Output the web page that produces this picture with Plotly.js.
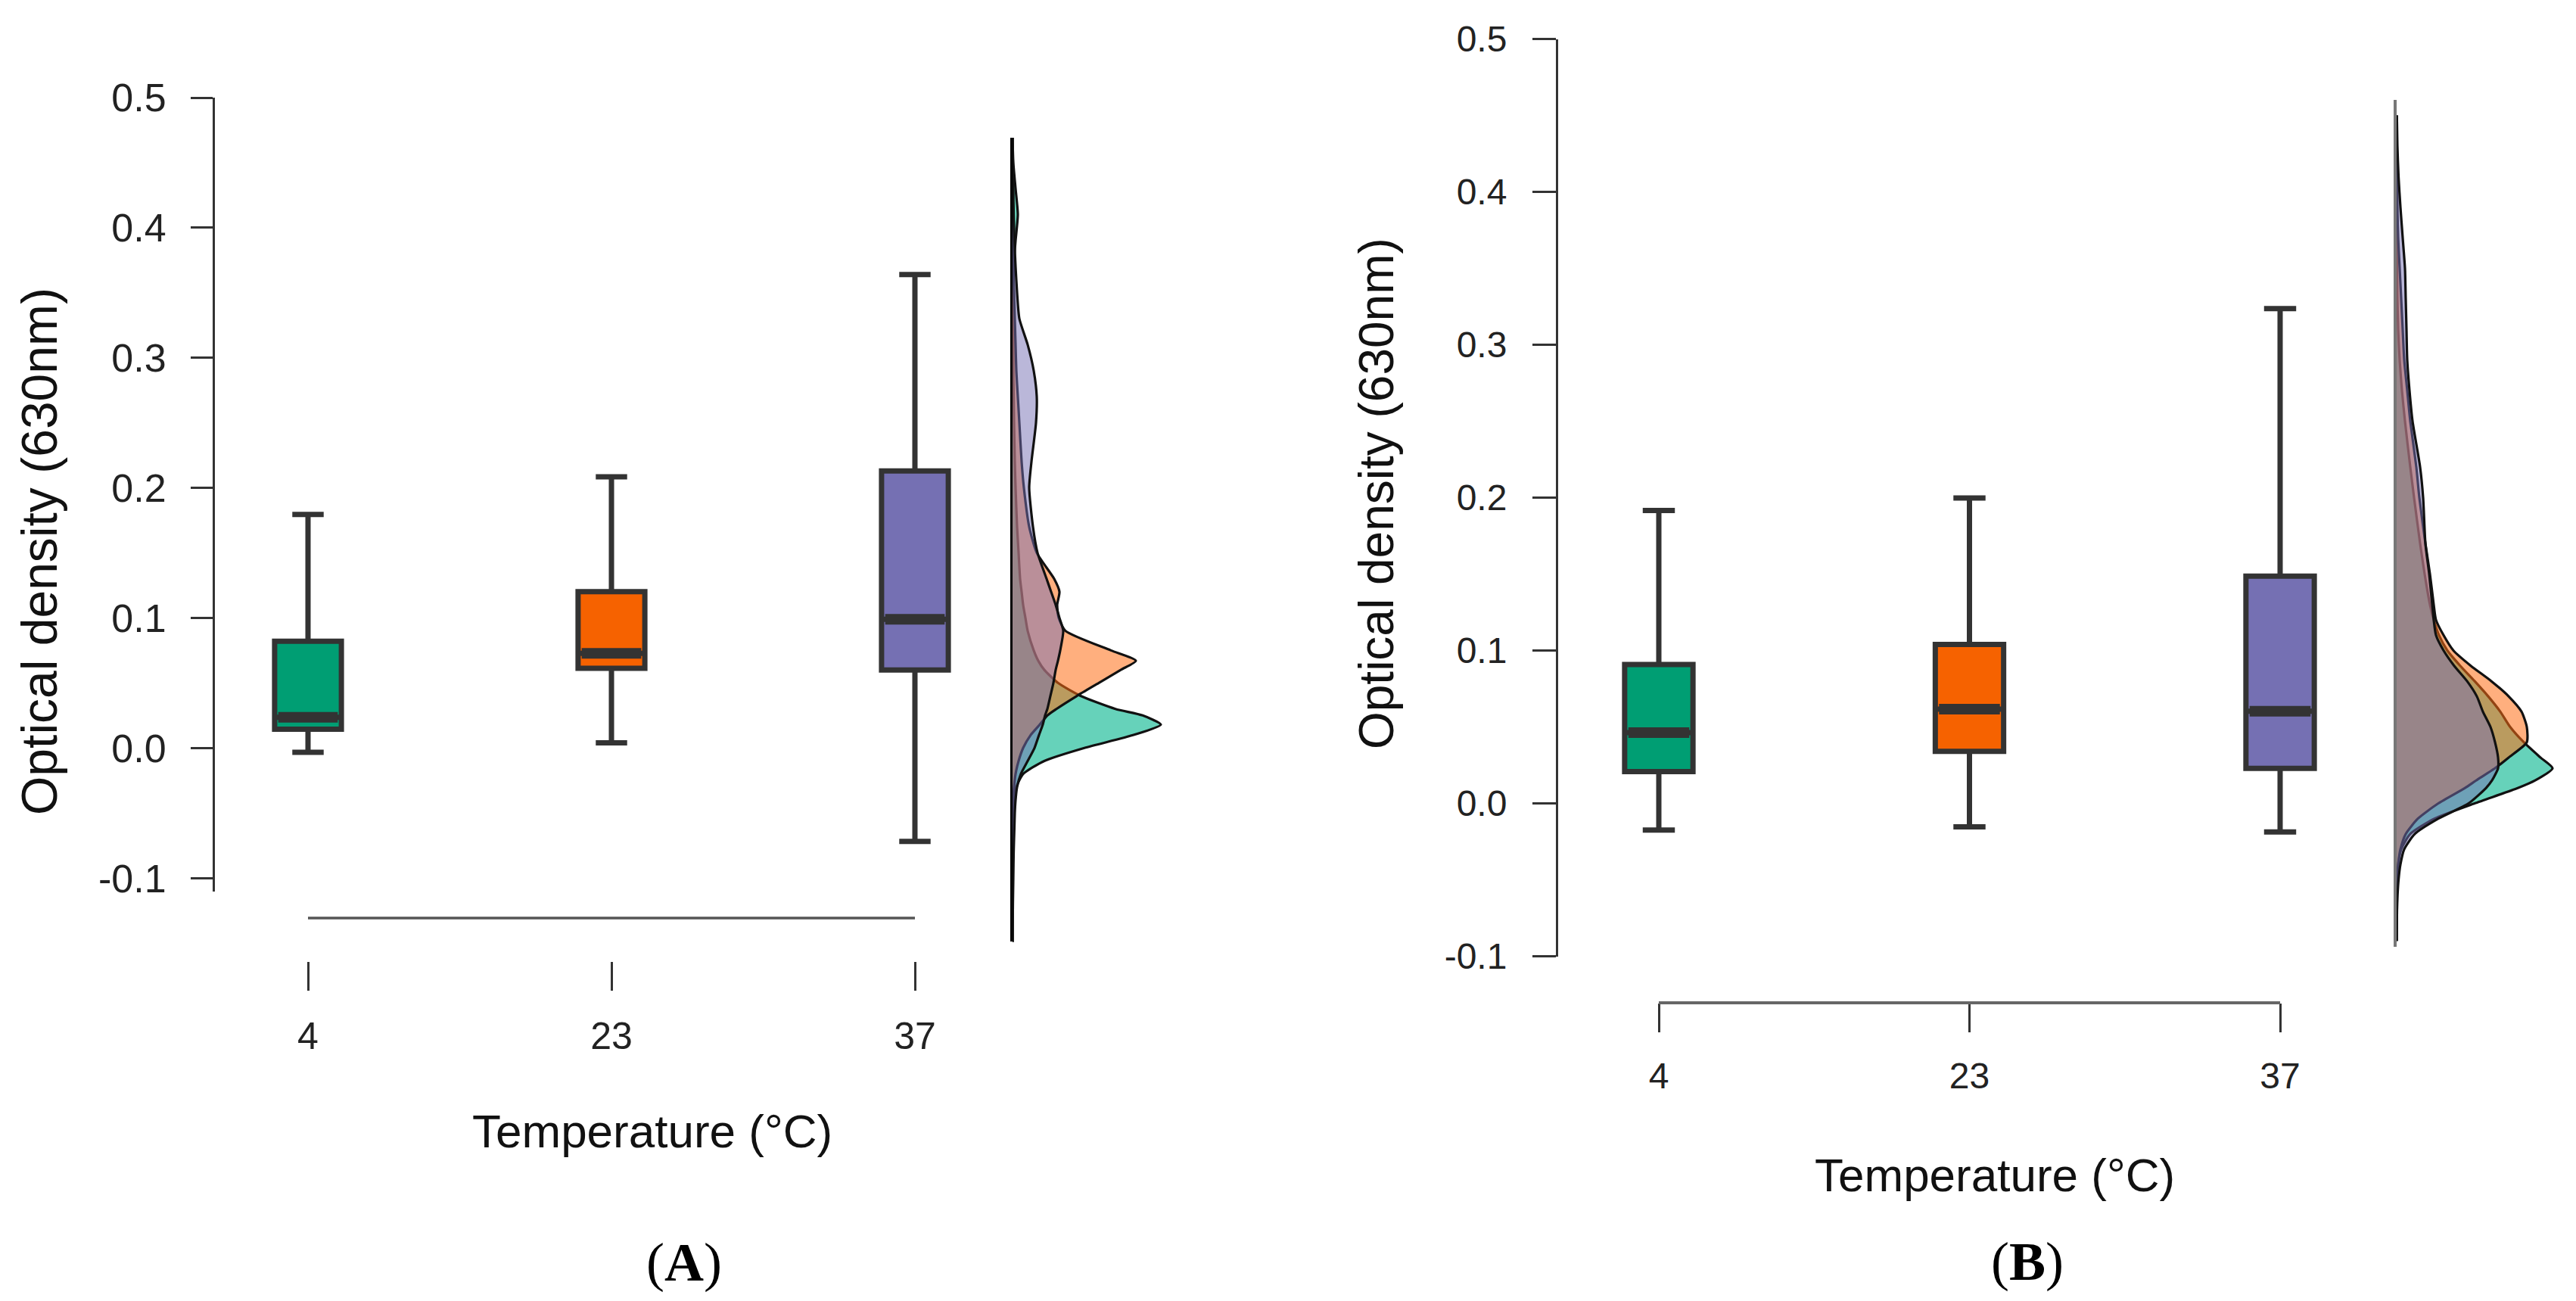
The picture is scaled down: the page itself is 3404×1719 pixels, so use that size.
<!DOCTYPE html>
<html>
<head>
<meta charset="utf-8">
<script src="https://cdn.plot.ly/plotly-3.0.1.min.js"></script>
<style>html,body{margin:0;padding:0;background:#fff;overflow:hidden}</style>
</head>
<body>
<div id="chart" style="width:3404px;height:1719px"></div>
<script>
// ---------- data ----------
const categories = ['4', '23', '37'];
const boxColors = ['#009E73', '#F66200', '#7570B3'];
const densFill = ['rgba(0,180,140,0.6)', 'rgba(255,110,20,0.55)', 'rgba(117,112,179,0.5)'];

const yTickVals = [-0.1, 0.0, 0.1, 0.2, 0.3, 0.4, 0.5];
const yTickText = ['-0.1', '0.0', '0.1', '0.2', '0.3', '0.4', '0.5'];

// Panel A box statistics
const q1A  = [0.0145, 0.0614, 0.0600];
const medA = [0.0237, 0.0728, 0.0990];
const q3A  = [0.0821, 0.1203, 0.2130];
const loA  = [-0.0032, 0.0040, -0.0717];
const hiA  = [0.1796, 0.2085, 0.3640];

// Panel B box statistics
const q1B  = [0.0208, 0.0340, 0.0229];
const medB = [0.0463, 0.0616, 0.0603];
const q3B  = [0.0909, 0.1040, 0.1487];
const loB  = [-0.0174, -0.0153, -0.0187];
const hiB  = [0.1916, 0.1997, 0.3237];

// Panel A densities (relative width) on a grid of optical density values
const gridA = [-0.15,-0.12,-0.1,-0.08,-0.06,-0.05,-0.04,-0.03,-0.02,-0.01,0.0,0.01,0.018,0.025,0.03,0.04,0.05,0.06,0.067,0.075,0.09,0.1,0.11,0.12,0.13,0.15,0.17,0.2,0.22,0.25,0.27,0.29,0.31,0.33,0.35,0.37,0.39,0.41,0.43,0.45,0.47];
const densA4  = [0,0,0,0,0.5,1,2,5,14,42,95,160,196,172,136,90,60,42,34,28,20,17,14,12,10,8,6,4,3,2,1.5,1,1,1,1,1.5,4,7,4,1,0];
const densA23 = [0,0,0,0,0,0.5,1,2,4,8,14,24,36,46,58,85,114,143,163,130,70,61,59,62,55,32,22,15,12,9,7,5,4,3,2,1,0.5,0,0,0,0];
const densA37 = [0,0.5,1,1.5,2.5,3,4,6,11,20,29,35,40,43,46,50,54,57,60,63,67,62,57,51,45,33,27,22,25,31,32,28,20,9,6,4,2.5,1.5,1,0.5,0];

// Panel B densities
const gridB = [-0.09,-0.07,-0.06,-0.05,-0.04,-0.03,-0.02,-0.01,0.0,0.01,0.015,0.023,0.03,0.04,0.05,0.06,0.07,0.08,0.09,0.1,0.11,0.12,0.13,0.15,0.17,0.2,0.22,0.25,0.27,0.29,0.31,0.33,0.35,0.37,0.39,0.41,0.43,0.45];
const densB4  = [0,0,0.3,0.8,2,6,18,50,103,160,183,206,190,168,150,137,121,103,84,67,56,49,44,37,31,23,18,11,7,4,2,1,0.5,0,0,0,0,0];
const densB23 = [0,0,0,0.5,2,5,12,28,55,90,105,130,148,172,172,165,148,125,98,75,62,52,49,44,38,30,26,18,14,10,8,6,4,2,1,0.5,0,0];
const densB37 = [0,0.5,1.2,2.5,5,10,24,55,95,118,126,134,134,130,124,114,106,93,76,62,52,49,47,43,38,35,31,21,17,14,13,12,11,8,5,2.5,1,0.3];

// ---------- layout helpers ----------
const W = 3404, H = 1719;
const px = v => v / W;
const py = v => 1 - v / H;
const BOX_W = 0.22;
const FONT = 'Liberation Sans, Arial, sans-serif';

function boxTraces(xa, ya, q1, med, q3, lo, hi) {
  const out = [];
  categories.forEach((c, i) => {
    out.push({
      type: 'box', xaxis: xa, yaxis: ya, x: [i],
      q1: [q1[i]], median: [med[i]], q3: [q3[i]],
      lowerfence: [lo[i]], upperfence: [hi[i]],
      width: BOX_W, whiskerwidth: 0.47, boxpoints: false,
      fillcolor: boxColors[i], line: {color: '#333333', width: 7},
      hoverinfo: 'skip', showlegend: false
    });
    out.push({
      type: 'scatter', mode: 'lines', xaxis: xa, yaxis: ya,
      x: [i - BOX_W / 2 + 0.012, i + BOX_W / 2 - 0.012], y: [med[i], med[i]],
      line: {color: '#333333', width: 14}, hoverinfo: 'skip', showlegend: false
    });
  });
  return out;
}
function densTraces(xa, ya, grid, dens) {
  return dens.map((d, i) => ({
    type: 'scatter', mode: 'lines', xaxis: xa, yaxis: ya,
    x: d, y: grid, fill: 'tozerox', fillcolor: densFill[i],
    line: {color: '#111', width: 3.2, shape: 'spline', smoothing: 0.6},
    hoverinfo: 'skip', showlegend: false
  }));
}

const traces = [].concat(
  boxTraces('x', 'y', q1A, medA, q3A, loA, hiA),
  densTraces('x2', 'y2', gridA, [densA4, densA23, densA37]),
  boxTraces('x3', 'y3', q1B, medB, q3B, loB, hiB),
  densTraces('x4', 'y4', gridB, [densB4, densB23, densB37])
);

const tickCommon = {showgrid: false, zeroline: false, ticks: 'outside', tickwidth: 3, tickcolor: '#333'};

const layout = {
  width: W, height: H,
  margin: {l: 0, r: 0, t: 0, b: 0},
  paper_bgcolor: '#fff', plot_bgcolor: 'rgba(0,0,0,0)',
  showlegend: false, boxmode: 'overlay',
  font: {family: FONT, color: '#222'},
  xaxis: Object.assign({}, tickCommon, {
    domain: [px(282), px(1300)], range: [(282 - 407) / 401, 2 + (1300 - 1209) / 401],
    anchor: 'free', position: py(1270), showline: false, ticklen: 38,
    tickvals: [0, 1, 2], ticktext: categories, tickfont: {size: 50, family: FONT, color: '#222'},
    ticklabelstandoff: 17
  }),
  yaxis: Object.assign({}, tickCommon, {
    domain: [py(1177.5), py(129)], range: [-0.11, 0.5],
    anchor: 'free', position: px(282), showline: true, linecolor: '#333', linewidth: 3,
    ticklen: 29, tickvals: yTickVals, ticktext: yTickText,
    tickfont: {size: 52, family: FONT, color: '#222'}, ticklabelstandoff: 22
  }),
  xaxis2: {domain: [px(1338), px(1568)], range: [0, 230], anchor: 'y2', visible: false},
  yaxis2: {domain: [py(1244.4), py(182.1)], range: [-0.149, 0.469], anchor: 'x2',
    showline: true, linecolor: '#000', linewidth: 3, ticks: '', showticklabels: false,
    showgrid: false, zeroline: false},
  xaxis3: Object.assign({}, tickCommon, {
    domain: [px(2057), px(3100)], range: [-(2192 - 2057) / 410.5, 2 + (3100 - 3013) / 410.5],
    anchor: 'free', position: py(1325), showline: false, ticklen: 38,
    tickvals: [0, 1, 2], ticktext: categories, tickfont: {size: 48, family: FONT, color: '#222'},
    ticklabelstandoff: 16
  }),
  yaxis3: Object.assign({}, tickCommon, {
    domain: [py(1263.5), py(51.5)], range: [-0.1, 0.5],
    anchor: 'free', position: px(2057), showline: true, linecolor: '#333', linewidth: 3,
    ticklen: 31, tickvals: yTickVals, ticktext: yTickText,
    tickfont: {size: 48, family: FONT, color: '#222'}, ticklabelstandoff: 24
  }),
  xaxis4: {domain: [px(3167), px(3397)], range: [0, 230], anchor: 'y4', visible: false},
  yaxis4: {domain: [py(1251.4), py(132.3)], range: [-0.094, 0.46], anchor: 'x4',
    showline: true, linecolor: '#777', linewidth: 4, ticks: '', showticklabels: false,
    showgrid: false, zeroline: false},
  shapes: [
    {type: 'line', xref: 'x', yref: 'paper', x0: 0, x1: categories.length - 1,
     y0: py(1213), y1: py(1213), line: {color: '#555', width: 3.5}},
    {type: 'line', xref: 'x3', yref: 'paper', x0: 0, x1: categories.length - 1,
     y0: py(1325), y1: py(1325), line: {color: '#666', width: 4}}
  ],
  annotations: [
    {text: 'Optical density (630nm)', textangle: -90, xref: 'paper', yref: 'paper',
     x: px(52), y: py(729), xanchor: 'center', yanchor: 'middle', showarrow: false,
     font: {size: 66, family: FONT, color: '#111'}},
    {text: 'Temperature (°C)', xref: 'paper', yref: 'paper',
     x: px(862), y: py(1494), xanchor: 'center', yanchor: 'middle', showarrow: false,
     font: {size: 62, family: FONT, color: '#111'}},
    {text: '(<b>A</b>)', xref: 'paper', yref: 'paper',
     x: px(904), y: py(1668), xanchor: 'center', yanchor: 'middle', showarrow: false,
     font: {size: 72, family: 'Liberation Serif, Times New Roman, serif', color: '#000'}},
    {text: 'Optical density (630nm)', textangle: -90, xref: 'paper', yref: 'paper',
     x: px(1819), y: py(652), xanchor: 'center', yanchor: 'middle', showarrow: false,
     font: {size: 64, family: FONT, color: '#111'}},
    {text: 'Temperature (°C)', xref: 'paper', yref: 'paper',
     x: px(2636), y: py(1552), xanchor: 'center', yanchor: 'middle', showarrow: false,
     font: {size: 62, family: FONT, color: '#111'}},
    {text: '(<b>B</b>)', xref: 'paper', yref: 'paper',
     x: px(2679), y: py(1667), xanchor: 'center', yanchor: 'middle', showarrow: false,
     font: {size: 72, family: 'Liberation Serif, Times New Roman, serif', color: '#000'}}
  ]
};

Plotly.newPlot('chart', traces, layout, {staticPlot: true, displayModeBar: false});
</script>
</body>
</html>
